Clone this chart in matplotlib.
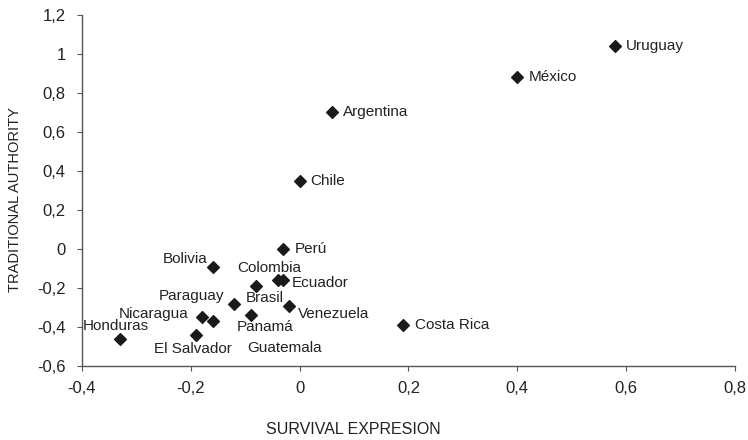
import matplotlib
matplotlib.use("Agg")
import matplotlib.pyplot as plt

countries = ["Uruguay", "México", "Argentina", "Chile", "Perú", "Bolivia", "Colombia",
             "Ecuador", "Brasil", "Paraguay", "Venezuela", "Nicaragua", "Guatemala",
             "Panamá", "El Salvador", "Honduras", "Costa Rica"]
survival = [0.58, 0.40, 0.06, 0.00, -0.03, -0.16, -0.04,
            -0.03, -0.08, -0.12, -0.02, -0.18, -0.16,
            -0.09, -0.19, -0.33, 0.19]
authority = [1.04, 0.88, 0.70, 0.35, 0.00, -0.09, -0.16,
             -0.16, -0.19, -0.28, -0.29, -0.35, -0.37,
             -0.34, -0.44, -0.46, -0.39]

xticks = [-0.4, -0.2, 0, 0.2, 0.4, 0.6, 0.8]
xticklabels = ["-0,4", "-0,2", "0", "0,2", "0,4", "0,6", "0,8"]
yticks = [-0.6, -0.4, -0.2, 0, 0.2, 0.4, 0.6, 0.8, 1.0, 1.2]
yticklabels = ["-0,6", "-0,4", "-0,2", "0", "0,2", "0,4", "0,6", "0,8", "1", "1,2"]

# label placement (offset in pixels, alignment)
label_pos = {
    "Uruguay": (11, 0, "left"),
    "México": (11, 0, "left"),
    "Argentina": (11, 0, "left"),
    "Chile": (11, 0, "left"),
    "Perú": (11, 0, "left"),
    "Bolivia": (-5, 8, "right"),
    "Colombia": (-9, 12, "center"),
    "Ecuador": (8, -3, "left"),
    "Brasil": (9, -12, "center"),
    "Paraguay": (-10, 8, "right"),
    "Venezuela": (9, -8, "left"),
    "Nicaragua": (-13, 3, "right"),
    "Guatemala": (72, -27, "center"),
    "Panamá": (14, -12, "center"),
    "El Salvador": (-3, -14, "center"),
    "Honduras": (-4, 13, "center"),
    "Costa Rica": (12, 0, "left"),
}

plt.rcParams["font.family"] = ["Liberation Sans", "DejaVu Sans"]

fig = plt.figure(figsize=(7.48, 4.40), dpi=100)
ax = fig.add_axes([0.1096, 0.168, 0.8730, 0.798])

ax.scatter(survival, authority, marker="D", s=36, color="#1a1a1a", zorder=3)

for name, x, y in zip(countries, survival, authority):
    dx, dy, ha = label_pos[name]
    ax.annotate(name, (x, y), xytext=(dx, dy), textcoords="offset pixels",
                ha=ha, va="center", fontsize=11, color="#222222")

ax.set_xlim(-0.4, 0.8)
ax.set_ylim(-0.6, 1.2)
ax.set_xticks(xticks)
ax.set_xticklabels(xticklabels)
ax.set_yticks(yticks)
ax.set_yticklabels(yticklabels)
ax.tick_params(direction="out", length=3.6, width=0.8, colors="#555555",
               labelcolor="#222222", labelsize=12)
ax.tick_params(axis="x", pad=7)
ax.tick_params(axis="y", pad=8)
for s in ["top", "right"]:
    ax.spines[s].set_visible(False)
for s in ["left", "bottom"]:
    ax.spines[s].set_color("#555555")
    ax.spines[s].set_linewidth(1.0)

ax.set_xlabel("SURVIVAL EXPRESION", fontsize=11.5, color="#222222", va="center", ha="center")
ax.xaxis.set_label_coords(0.415, -0.182)
ax.set_ylabel("TRADITIONAL AUTHORITY", fontsize=10.5, color="#222222", va="center", ha="center")
ax.yaxis.set_label_coords(-0.1026, 0.473)

fig.savefig("out.png", dpi=100, facecolor="white")
